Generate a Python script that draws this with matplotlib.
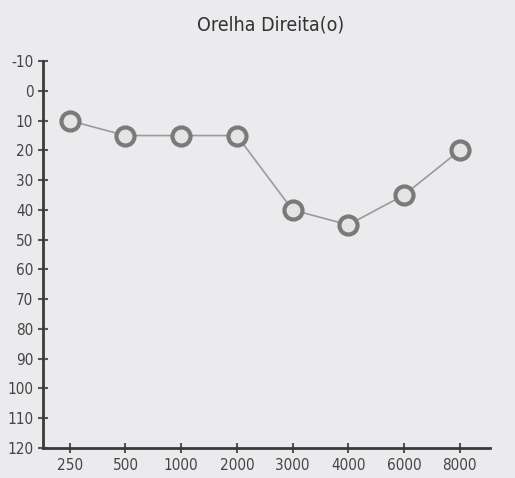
import matplotlib
matplotlib.use('Agg')
import matplotlib.pyplot as plt
import numpy as np

# audiogram - right ear
freqs = ['250', '500', '1000', '2000', '3000', '4000', '6000', '8000']
thresholds = [10, 15, 15, 15, 40, 45, 35, 20]
yticks = list(range(-10, 121, 10))

fig = plt.figure(figsize=(5.15, 4.78), dpi=100)
fig.patch.set_facecolor('#ebebee')
ax = fig.add_axes([0.0835, 0.0628, 0.8675, 0.8092])
ax.set_facecolor('#ebebee')

x = np.arange(len(freqs))
ax.plot(x, thresholds, color='#9a9a9a', lw=1.2, zorder=2)
ax.plot(x, thresholds, 'o', ms=13, mfc='#e4e4e4', mec='#7a7a7a', mew=3, zorder=3)

ax.set_xlim(-0.48, 7.54)
ax.set_ylim(120, -10)
ax.set_xticks(x)
ax.set_xticklabels(freqs)
ax.set_yticks(yticks)
ax.set_yticklabels([str(v) for v in yticks])

for s in ['top', 'right']:
    ax.spines[s].set_visible(False)
for s in ['left', 'bottom']:
    ax.spines[s].set_color('#3a3a3a')
    ax.spines[s].set_linewidth(2)

ax.tick_params(direction='inout', length=7, width=1.5, color='#555555',
               labelcolor='#444444', labelsize=11)
for lab in ax.get_xticklabels() + ax.get_yticklabels():
    lab.set_fontstretch('condensed')

fig.text(0.525, 0.948, 'Orelha Direita(o)', ha='center', va='center',
         fontsize=14, color='#333333', fontstretch='condensed')

fig.savefig('out.png', dpi=100, facecolor=fig.get_facecolor())
